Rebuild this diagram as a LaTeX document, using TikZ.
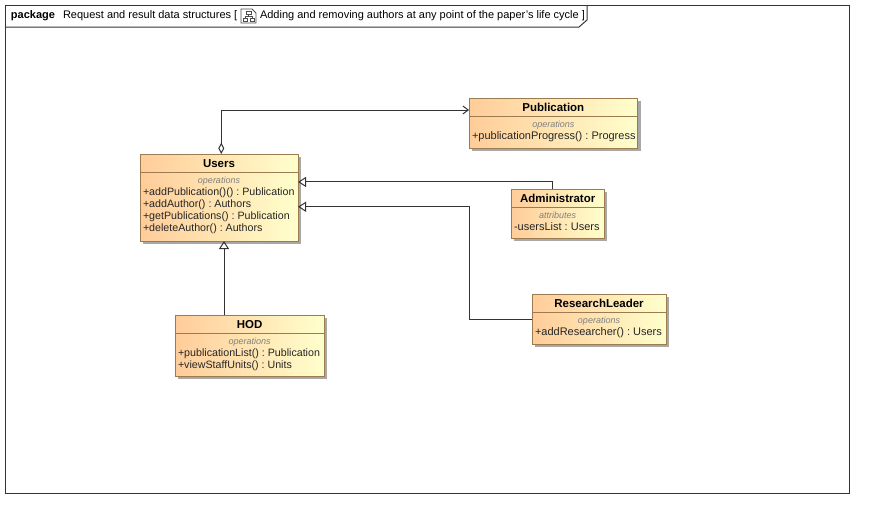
\documentclass[tikz,border=0pt]{standalone}
\usepackage{fontspec}
\setmainfont{Liberation Sans}
\usepackage{xcolor}
\usetikzlibrary{arrows.meta, positioning, shadows}
\definecolor{boxleft}{HTML}{FFCC99}
\definecolor{boxright}{HTML}{FFFFCC}
\definecolor{boxline}{HTML}{9C7B50}
\definecolor{boxshadow}{HTML}{A8A8A8}
\definecolor{wire}{HTML}{333333}

\begin{document}
\frenchspacing
\begin{tikzpicture}[
        x=0.75pt, y=-0.75pt,
        every node/.style={inner sep=0pt, outer sep=0pt, font=\fontsize{8.25}{9}\selectfont},
        classhead/.style={rectangle, draw=boxline, line width=0.75pt, left color=boxleft, right color=boxright, minimum height=13.5pt, text height=6pt, text depth=0pt, font=\fontsize{8.6}{9}\selectfont\bfseries, anchor=north west, drop shadow={shadow xshift=2.25pt, shadow yshift=-2.25pt, fill=boxshadow, opacity=1}},
        classbody/.style={rectangle, draw=boxline, line width=0.75pt, left color=boxleft, right color=boxright, drop shadow={shadow xshift=2.25pt, shadow yshift=-2.25pt, fill=boxshadow, opacity=1}},
        kindlabel/.style={font=\fontsize{6.75}{8}\selectfont\itshape, text=gray},
        oplabel/.style={align=left, text=black!85, font=\fontsize{8}{9}\selectfont},
        wideop/.style={oplabel, font=\fontsize{8.25}{9}\selectfont},
        gen/.style={draw=wire, line width=0.75pt, -{Triangle[open, length=6pt, width=7.5pt]}},
        assoc/.style={draw=wire, line width=0.75pt, {Diamond[open, length=8.5pt, width=4.5pt]}-{Straight Barb[length=4pt, width=6pt]}}
    ]
        \useasboundingbox (0,0) rectangle (874,518);

        % Frame and its tab
        \node (frame) [rectangle, draw=wire, line width=0.75pt, minimum width=633pt, minimum height=366pt, anchor=north west] at (5,5) {};
        \draw [wire, line width=0.75pt] (frame.north west |- 0,27) -- (579,27) -- (587,20) -- (587,5);
        \node (pkg) [anchor=west, font=\fontsize{8.25}{9}\selectfont\bfseries] at (11,16) {package};
        \node (pkgName) [anchor=west] at (63,16) {Request and result data structures [};
        \node (pkgTitle) [anchor=west] at (260,16) {Adding and removing authors at any point of the paper's life cycle ]};

        % Diagram icon in the tab
        \draw [black!70, line width=0.6pt] (241,9) -- (252,9) -- (256,13) -- (256,23) -- (241,23) -- cycle;
        \draw [black!70, line width=0.5pt] (246,11) rectangle (251,14);
        \draw [black!70, line width=0.5pt] (243,18) rectangle (247,21);
        \draw [black!70, line width=0.5pt] (250,18) rectangle (254,21);
        \draw [black!70, line width=0.5pt] (248.5,14) -- (248.5,16) (245,18) -- (245,16) -- (252,16) -- (252,18);

        % Users
        \node (usersHead) [classhead, minimum width=118.5pt] at (140,154) {Users};
        \node (usersBody) [classbody, minimum width=118.5pt, minimum height=51.75pt, below=0pt of usersHead] {};
        \node (usersKind) [kindlabel, below=3.5pt of usersBody.north] {operations};
        \node (usersOps) [oplabel, below right=11.5pt and 2.25pt of usersBody.north west] {+addPublication()() : Publication\\+addAuthor() : Authors\\+getPublications() : Publication\\+deleteAuthor() : Authors};

        % Publication
        \node (pubHead) [classhead, minimum width=126.5pt] at (469,98) {Publication};
        \node (pubBody) [classbody, minimum width=126.5pt, minimum height=24pt, below=0pt of pubHead] {};
        \node (pubKind) [kindlabel, below=3.5pt of pubBody.north] {operations};
        \node (pubOps) [wideop, below right=11.5pt and 2.25pt of pubBody.north west] {+publicationProgress() : Progress};

        % Administrator
        \node (adminHead) [classhead, minimum width=70pt] at (511,189) {Administrator};
        \node (adminBody) [classbody, minimum width=70pt, minimum height=23.25pt, below=0pt of adminHead] {};
        \node (adminKind) [kindlabel, below=3.5pt of adminBody.north] {attributes};
        \node (adminOps) [wideop, below right=11.5pt and 2.25pt of adminBody.north west] {-usersList : Users};

        % ResearchLeader
        \node (leaderHead) [classhead, minimum width=100.5pt] at (532,294) {ResearchLeader};
        \node (leaderBody) [classbody, minimum width=100.5pt, minimum height=24pt, below=0pt of leaderHead] {};
        \node (leaderKind) [kindlabel, below=3.5pt of leaderBody.north] {operations};
        \node (leaderOps) [wideop, below right=11.5pt and 2.25pt of leaderBody.north west] {+addResearcher() : Users};

        % HOD
        \node (hodHead) [classhead, minimum width=112pt] at (175,315) {HOD};
        \node (hodBody) [classbody, minimum width=112pt, minimum height=32.25pt, below=0pt of hodHead] {};
        \node (hodKind) [kindlabel, below=3.5pt of hodBody.north] {operations};
        \node (hodOps) [oplabel, below right=11.5pt and 2.25pt of hodBody.north west] {+publicationList() : Publication\\+viewStaffUnits() : Units};

        % Connectors
        \draw [assoc] ([xshift=1.7pt]usersHead.north) |- ([yshift=-2.25pt]pubHead.west);
        \draw [gen] ([xshift=-3.75pt]adminHead.north) |- ([yshift=18.4pt]usersBody.east);
        \draw [gen] ([yshift=6.4pt]leaderBody.west) -- ++(-62.5,0) |- ([yshift=-0.2pt]usersBody.east);
        \draw [gen] ([xshift=-19.25pt]hodHead.north) -- ([xshift=3.75pt]usersBody.south);
    \end{tikzpicture}
\end{document}
